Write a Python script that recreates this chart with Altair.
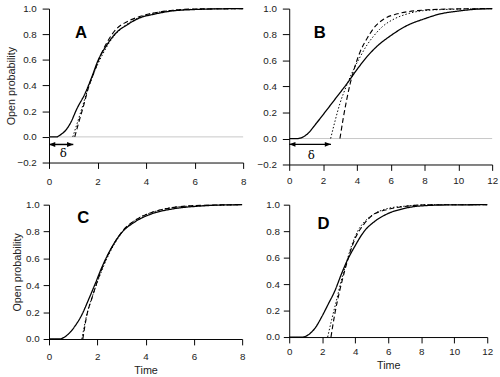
import altair as alt
import pandas as pd

FONT = "Liberation Sans"

# ---------------- Panel A ----------------
a_solid_t = [0, 0.3, 0.5, 0.68, 0.89, 1.15, 1.49, 1.77, 2.03, 2.36, 2.76, 3.23, 3.77, 4.3, 5.0, 6.0, 7.0, 8.0]
a_solid_p = [0, 0.0, 0.02, 0.05, 0.11, 0.22, 0.34, 0.47, 0.60, 0.71, 0.81, 0.875, 0.93, 0.955, 0.98, 0.993, 0.998, 1.0]
a_dash_t = [1.06, 1.22, 1.42, 1.62, 1.89, 2.16, 2.43, 2.77, 3.23, 3.77, 4.3, 5.0, 6.0, 8.0]
a_dash_p = [0, 0.11, 0.24, 0.38, 0.52, 0.65, 0.75, 0.84, 0.90, 0.94, 0.965, 0.985, 0.997, 1.0]
a_dot_t = [0.98, 1.15, 1.35, 1.6, 1.9, 2.2, 2.5, 2.9, 3.4, 4.0, 4.8, 6.0, 8.0]
a_dot_p = [0, 0.10, 0.22, 0.37, 0.52, 0.64, 0.74, 0.83, 0.90, 0.95, 0.98, 0.995, 1.0]

# ---------------- Panel B ----------------
b_solid_t = [0, 0.5, 1.03, 1.62, 2.22, 2.81, 3.4, 4.0, 4.6, 5.19, 5.98, 6.97, 7.96, 8.95, 9.94, 11.0, 12.0]
b_solid_p = [0, 0.0, 0.03, 0.12, 0.22, 0.32, 0.42, 0.53, 0.63, 0.71, 0.79, 0.87, 0.92, 0.96, 0.98, 0.995, 1.0]
b_dot_t = [2.45, 2.7, 3.0, 3.4, 3.8, 4.2, 4.6, 5.0, 5.5, 6.2, 7.0, 8.5, 12.0]
b_dot_p = [0, 0.13, 0.27, 0.41, 0.53, 0.63, 0.72, 0.79, 0.86, 0.92, 0.96, 0.99, 1.0]
b_dash_t = [3.0, 3.2, 3.4, 3.6, 3.9, 4.2, 4.6, 5.0, 5.6, 6.4, 7.6, 9.5, 12.0]
b_dash_p = [0, 0.16, 0.30, 0.42, 0.56, 0.67, 0.77, 0.85, 0.92, 0.96, 0.985, 0.997, 1.0]

# ---------------- Panel C ----------------
c_solid_t = [0, 0.4, 0.82, 1.09, 1.36, 1.63, 1.91, 2.18, 2.59, 3.0, 3.54, 4.22, 5.18, 6.27, 7.0, 8.0]
c_solid_p = [0, 0.0, 0.04, 0.10, 0.18, 0.29, 0.41, 0.53, 0.68, 0.79, 0.87, 0.93, 0.97, 0.99, 0.997, 1.0]
c_dash_t = [1.40, 1.57, 1.77, 2.04, 2.32, 2.66, 3.07, 3.54, 4.22, 5.18, 6.27, 8.0]
c_dash_p = [0, 0.18, 0.30, 0.45, 0.58, 0.70, 0.81, 0.88, 0.94, 0.98, 0.995, 1.0]
c_dot_t = [1.36, 1.55, 1.8, 2.1, 2.4, 2.75, 3.2, 3.7, 4.4, 5.4, 8.0]
c_dot_p = [0, 0.17, 0.32, 0.47, 0.60, 0.72, 0.83, 0.90, 0.95, 0.985, 1.0]

# ---------------- Panel D ----------------
d_solid_t = [0, 0.8, 1.19, 1.58, 1.98, 2.37, 2.77, 3.16, 3.56, 3.95, 4.55, 5.14, 5.93, 6.92, 7.9, 9.5, 12.0]
d_solid_p = [0, 0.0, 0.02, 0.07, 0.155, 0.25, 0.35, 0.475, 0.59, 0.68, 0.80, 0.87, 0.93, 0.97, 0.99, 0.998, 1.0]
d_dot_t = [2.33, 2.57, 2.87, 3.16, 3.46, 3.75, 4.15, 4.55, 5.14, 5.93, 7.1, 8.7, 12.0]
d_dot_p = [0, 0.13, 0.28, 0.43, 0.56, 0.68, 0.80, 0.87, 0.93, 0.97, 0.99, 1.0, 1.0]
d_dash_t = [2.53, 2.77, 3.06, 3.36, 3.66, 4.05, 4.45, 5.04, 5.83, 6.92, 8.5, 12.0]
d_dash_p = [0, 0.18, 0.35, 0.50, 0.63, 0.76, 0.84, 0.92, 0.96, 0.985, 1.0, 1.0]

# panel letters: (t, p)
letters = {"A": (1.32, 0.81), "B": (1.8, 0.81), "C": (1.42, 0.90), "D": (2.08, 0.855)}
# delay arrows: (delta, arrow p, delta-label t, delta-label p)
arrows = {"A": (1.0, -0.059, 0.59, -0.13), "B": (2.47, -0.045, 1.31, -0.125)}

y_top_ticks = [-0.2, 0.0, 0.2, 0.4, 0.6, 0.8, 1.0]
y_bot_ticks = [0.0, 0.2, 0.4, 0.6, 0.8, 1.0]

DASH_DOMAIN = ["solid", "dashed", "dotted"]


def curves_df(parts):
    frames = []
    for t, p, name in parts:
        frames.append(pd.DataFrame({"t": t, "p": p, "curve": name}))
    return pd.concat(frames, ignore_index=True)


def panel(key, parts, xmax, ymin, yticks, w, h, ytitle, xtitle, zero_line,
          ytick=7, ypad=6, ytitlepad=0, xtick=6, xpad=5):
    df = curves_df(parts)
    xs = alt.Scale(domain=[0, xmax], nice=False, zero=False)
    ys = alt.Scale(domain=[ymin, 1.0], nice=False, zero=False)
    xaxis = alt.Axis(values=list(range(0, xmax + 1, 2)), title="Time" if xtitle else None,
                     labelFlush=False, labelOverlap=False, grid=False,
                     tickSize=xtick, labelPadding=xpad, titlePadding=3)
    yaxis = alt.Axis(values=yticks, format=".1f", title="Open probability" if ytitle else None,
                     labelOverlap=False, grid=False, tickSize=ytick, labelPadding=ypad,
                     titlePadding=ytitlepad)

    def X(f):
        return alt.X(f, scale=xs, axis=xaxis)

    def Y(f):
        return alt.Y(f, scale=ys, axis=yaxis)

    layers = []
    if zero_line:
        layers.append(
            alt.Chart(pd.DataFrame({"z": [0.0]})).mark_rule(color="#c8c8c8", strokeWidth=1).encode(
                y=Y("z:Q")
            )
        )
    lines = alt.Chart(df).mark_line(color="black", interpolate="monotone").encode(
        x=X("t:Q"),
        y=Y("p:Q"),
        strokeDash=alt.StrokeDash("curve:N", scale=alt.Scale(domain=DASH_DOMAIN, range=[[1, 0], [5, 3], [1.5, 2]]), legend=None),
        strokeWidth=alt.StrokeWidth("curve:N", scale=alt.Scale(domain=DASH_DOMAIN, range=[1.3, 1.0, 1.0]), legend=None),
    )
    layers.append(lines)
    lt, lp = letters[key]
    layers.append(
        alt.Chart(pd.DataFrame({"t": [lt], "p": [lp], "label": [key]})).mark_text(
            font=FONT, fontSize=17, fontWeight="bold", color="black"
        ).encode(x=X("t:Q"), y=Y("p:Q"), text="label:N")
    )
    if key in arrows:
        d, ap, dt, dp = arrows[key]
        adf = pd.DataFrame({"t0": [0.0], "t1": [d], "p": [ap]})
        layers.append(
            alt.Chart(adf).mark_rule(color="black", strokeWidth=1.5).encode(
                x=X("t0:Q"), x2="t1:Q", y=Y("p:Q")
            )
        )
        layers.append(
            alt.Chart(adf).mark_point(shape="M0,0L2,-0.8L2,0.8Z", filled=True, color="black", size=40, opacity=1).encode(
                x=X("t0:Q"), y=Y("p:Q")
            )
        )
        layers.append(
            alt.Chart(adf).mark_point(shape="M0,0L-2,-0.8L-2,0.8Z", filled=True, color="black", size=40, opacity=1).encode(
                x=X("t1:Q"), y=Y("p:Q")
            )
        )
        layers.append(
            alt.Chart(pd.DataFrame({"t": [dt], "p": [dp], "label": ["δ"]})).mark_text(
                font="DejaVu Serif", fontSize=12, color="black"
            ).encode(x=X("t:Q"), y=Y("p:Q"), text="label:N")
        )
    return alt.layer(*layers).properties(width=w, height=h)


pA = panel("A", [(a_solid_t, a_solid_p, "solid"), (a_dash_t, a_dash_p, "dashed"), (a_dot_t, a_dot_p, "dotted")],
           8, -0.2, y_top_ticks, 198, 157, True, False, True, ytick=7, ypad=6, ytitlepad=0, xtick=6, xpad=8)
pB = panel("B", [(b_solid_t, b_solid_p, "solid"), (b_dash_t, b_dash_p, "dashed"), (b_dot_t, b_dot_p, "dotted")],
           12, -0.2, y_top_ticks, 207, 159, False, False, True, ytick=7, ypad=6, xtick=6, xpad=5)
pC = panel("C", [(c_solid_t, c_solid_p, "solid"), (c_dash_t, c_dash_p, "dashed"), (c_dot_t, c_dot_p, "dotted")],
           8, 0.0, y_bot_ticks, 197, 137, True, True, False, ytick=6, ypad=4, ytitlepad=3, xtick=6, xpad=7)
pD = panel("D", [(d_solid_t, d_solid_p, "solid"), (d_dash_t, d_dash_p, "dashed"), (d_dot_t, d_dot_p, "dotted")],
           12, 0.0, y_bot_ticks, 202, 135, False, True, False, ytick=6, ypad=4, xtick=6, xpad=4)

top = alt.hconcat(pA, pB, spacing=11)
bot = alt.hconcat(pC, pD, spacing=21)

chart = alt.vconcat(top, bot, spacing=14).properties(
    padding={"left": 6, "top": 0, "right": 2, "bottom": 0},
    background="white",
).configure_view(stroke=None).configure_axis(
    grid=False,
    domainColor="black",
    domainWidth=1,
    tickColor="black",
    labelColor="#222",
    labelFont=FONT,
    labelFontSize=10,
    labelOverlap=False,
    titleFont=FONT,
    titleFontSize=11,
    titleFontWeight="normal",
    titleColor="#222",
)

chart.save("out.html", embed_options={"renderer": "svg", "actions": False})
